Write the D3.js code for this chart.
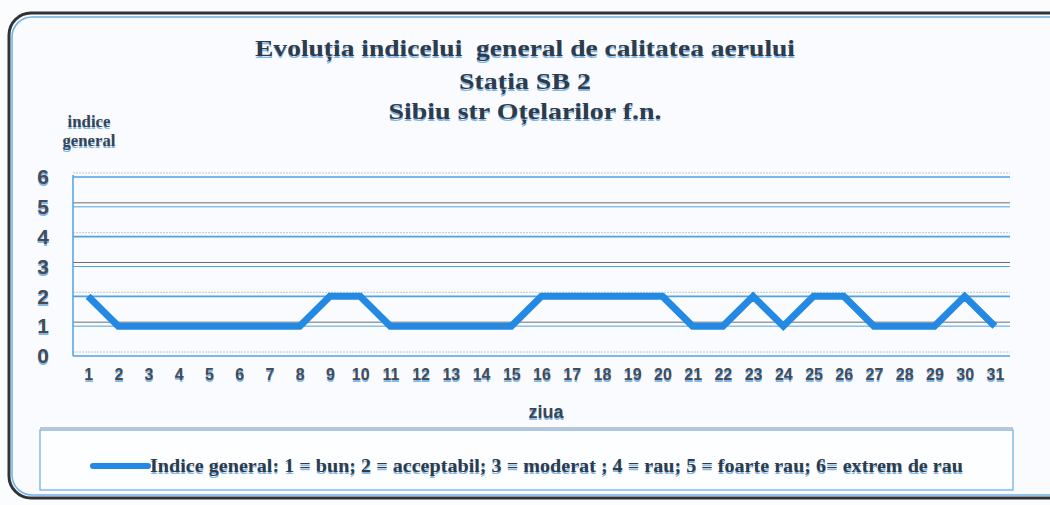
<!DOCTYPE html>
<html>
<head>
<meta charset="utf-8">
<script src="https://cdn.jsdelivr.net/npm/d3@7"></script>
<style>
  body { margin: 0; background: #fff; }
  .serif { font-family: "Liberation Serif", "Times New Roman", serif; font-weight: bold; }
  .sans { font-family: "Liberation Sans", Arial, sans-serif; font-weight: bold; }
  text { text-shadow: 0 2px 0 rgba(90,160,225,0.75); }
</style>
</head>
<body>
<div class="container"></div>
<script>
var days = d3.range(1, 32).map(String);
var indice = [2, 1, 1, 1, 1, 1, 1, 1, 2, 2, 1, 1, 1, 1, 1, 2, 2, 2, 2, 2, 1, 1, 2, 1, 2, 2, 1, 1, 1, 2, 1];
var yTicks = [0, 1, 2, 3, 4, 5, 6];
var titleLines = ["Evoluția indicelui  general de calitatea aerului", "Stația SB 2", "Sibiu str Oțelarilor f.n."];
var legendText = "Indice general: 1 = bun; 2 = acceptabil; 3 = moderat ; 4 = rau; 5 = foarte rau; 6= extrem de rau";

var W = 1050, H = 505;
var margin = {top: 177, left: 73, right: 40, bottom: 149};
var width = W - margin.left - margin.right,
    height = H - margin.top - margin.bottom;

var svg = d3.select(".container")
  .append("svg")
    .attr("width", W)
    .attr("height", H);

// background + rounded frame
svg.append("rect").attr("width", W).attr("height", H).attr("fill", "#fbfcfe");
svg.append("rect")
  .attr("x", 9).attr("y", 13).attr("width", 1080).attr("height", 485)
  .attr("rx", 22)
  .attr("fill", "#f9fbfe")
  .attr("stroke", "#2f3438").attr("stroke-width", 3);
svg.append("rect")
  .attr("x", 12).attr("y", 17).attr("width", 1080).attr("height", 478)
  .attr("rx", 20)
  .attr("fill", "none")
  .attr("stroke", "#6fb0e6").attr("stroke-width", 1.5);

// titles
var titleY = [56, 89, 119];
var titleLen = [540, 132, 273];
titleLines.forEach(function(t, i) {
  svg.append("text")
    .attr("class", "serif")
    .attr("x", 525)
    .attr("y", titleY[i])
    .attr("text-anchor", "middle")
    .attr("font-size", 23)
    .attr("fill", "#2f3b49")
    .attr("textLength", titleLen[i])
    .attr("lengthAdjust", "spacingAndGlyphs")
    .style("white-space", "pre")
    .text(t);
});

svg.append("text").attr("class", "serif")
  .attr("x", 89).attr("y", 127).attr("text-anchor", "middle")
  .attr("font-size", 17).attr("fill", "#3a4552")
  .attr("textLength", 43).attr("lengthAdjust", "spacingAndGlyphs")
  .text("indice");
svg.append("text").attr("class", "serif")
  .attr("x", 89).attr("y", 146).attr("text-anchor", "middle")
  .attr("font-size", 17).attr("fill", "#3a4552")
  .attr("textLength", 53).attr("lengthAdjust", "spacingAndGlyphs")
  .text("general");

var g = svg.append("g")
  .attr("transform", "translate(" + margin.left + "," + margin.top + ")");

var x = d3.scalePoint().domain(days).range([0, width]).padding(0.5);
var y = d3.scaleLinear().domain([0, 6]).range([height, 0]);

// grid lines: grey (scan offset) + blue
g.selectAll(".grid-grey")
  .data(yTicks)
  .enter()
  .append("line")
    .attr("x1", 0).attr("x2", width)
    .attr("y1", d => y(d) - 4).attr("y2", d => y(d) - 4)
    .attr("stroke", d => d % 2 ? "#6e6e6e" : "#c3c6ca")
    .attr("stroke-width", 1)
    .attr("stroke-dasharray", d => d % 2 ? null : "2,1");

g.selectAll(".grid-blue")
  .data(yTicks)
  .enter()
  .append("line")
    .attr("x1", 0).attr("x2", width)
    .attr("y1", d => y(d)).attr("y2", d => y(d))
    .attr("stroke", "#4ea3e3")
    .attr("stroke-width", d => d % 2 ? 1 : 1.6);

g.append("line")
  .attr("x1", 0).attr("x2", 0).attr("y1", -2).attr("y2", height)
  .attr("stroke", "#4ea3e3").attr("stroke-width", 1.5);

// axes
var yAxis = g.append("g")
  .call(d3.axisLeft(y).tickValues(yTicks).tickFormat(d3.format("d")).tickSize(0).tickPadding(24));
yAxis.select(".domain").remove();
yAxis.selectAll("text")
  .attr("class", "sans")
  .attr("font-size", 21)
  .attr("fill", "#454c55");

var xAxis = g.append("g")
  .attr("transform", "translate(0," + height + ")")
  .call(d3.axisBottom(x).tickSize(0).tickPadding(13));
xAxis.select(".domain").remove();
xAxis.selectAll("text")
  .attr("class", "sans")
  .attr("font-size", 16)
  .attr("fill", "#454c55");

svg.append("text").attr("class", "sans")
  .attr("x", 546).attr("y", 418).attr("text-anchor", "middle")
  .attr("font-size", 18).attr("fill", "#3a4552")
  .text("ziua");

// data line
var line = d3.line()
  .x((d, i) => x(days[i]))
  .y(d => y(d));

g.append("path")
  .datum(indice)
  .attr("d", line)
  .attr("fill", "none")
  .attr("stroke", "#2389e3")
  .attr("stroke-width", 7)
  .attr("stroke-linejoin", "miter");

// legend
var lg = svg.append("g");
lg.append("rect")
  .attr("x", 40).attr("y", 430).attr("width", 973).attr("height", 60)
  .attr("fill", "#fdfeff")
  .attr("stroke", "#6aa9df").attr("stroke-width", 1.2);
lg.append("line")
  .attr("x1", 40).attr("x2", 1013).attr("y1", 428).attr("y2", 428)
  .attr("stroke", "#8a8e93").attr("stroke-width", 1);
lg.append("line")
  .attr("x1", 93).attr("x2", 148).attr("y1", 466).attr("y2", 466)
  .attr("stroke", "#2389e3").attr("stroke-width", 6)
  .attr("stroke-linecap", "round");
lg.append("text").attr("class", "serif")
  .attr("x", 150).attr("y", 472)
  .attr("font-size", 19).attr("fill", "#2f3b49")
  .attr("textLength", 813)
  .attr("lengthAdjust", "spacingAndGlyphs")
  .text(legendText);
</script>
</body>
</html>
